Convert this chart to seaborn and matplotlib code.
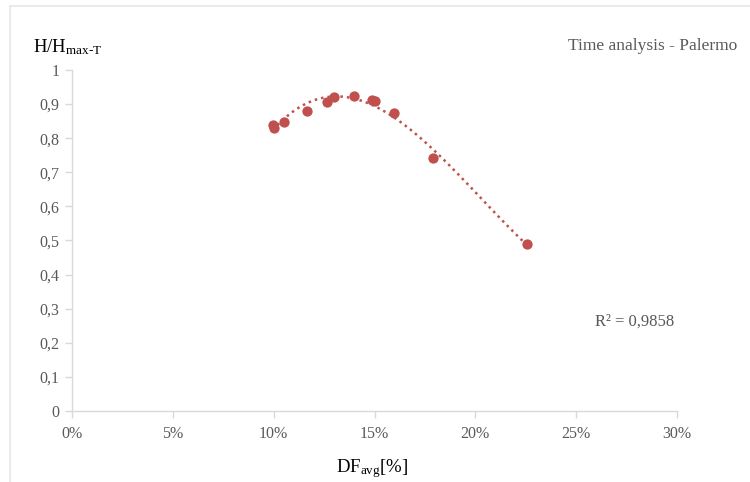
import matplotlib
matplotlib.use('Agg')
import matplotlib.pyplot as plt
from matplotlib.patches import Rectangle
from matplotlib.ticker import FuncFormatter, MultipleLocator
import seaborn as sns
import pandas as pd

# Data
df_avg = [0.0997, 0.1000, 0.1050, 0.1165, 0.1264, 0.1299, 0.1398, 0.1490, 0.1500, 0.1596, 0.1790, 0.2256]
h_ratio = [0.840, 0.830, 0.848, 0.880, 0.906, 0.921, 0.924, 0.912, 0.908, 0.873, 0.742, 0.490]

title = "Time analysis - Palermo"
r2_label = "R² = 0,9858"

red = '#C0504D'
grey_txt = '#595959'
grey_line = '#D9D9D9'

df = pd.DataFrame({'df': df_avg, 'h': h_ratio})

sns.set_style('white')
plt.rcParams['font.family'] = ['Liberation Serif', 'DejaVu Serif']
plt.rcParams['mathtext.fontset'] = 'custom'
plt.rcParams['mathtext.rm'] = 'Liberation Serif'
plt.rcParams['mathtext.it'] = 'Liberation Serif:italic'

fig = plt.figure(figsize=(7.5, 4.82), dpi=100)
ax = fig.add_axes([72 / 750, 1 - 411 / 482, (677 - 72) / 750, (411 - 70) / 482])

# chart area border (cropped on the right and bottom)
fig.patches.append(Rectangle((10 / 750, -0.1), 1.2, 1 - 6 / 482 + 0.1, transform=fig.transFigure,
                             fill=False, edgecolor='#E6E6E6', linewidth=1.2))

# polynomial trendline (order 3), dotted
sns.regplot(data=df, x='df', y='h', order=3, ci=None, scatter=False, ax=ax,
            line_kws=dict(color=red, linestyle=(0, (1, 1.6)), linewidth=1.8))
sns.scatterplot(data=df, x='df', y='h', ax=ax, color=red, s=55, edgecolor=red, linewidth=0, zorder=3)

ax.set_xlim(0, 0.30)
ax.set_ylim(0, 1)
ax.xaxis.set_major_locator(MultipleLocator(0.05))
ax.yaxis.set_major_locator(MultipleLocator(0.1))
ax.xaxis.set_major_formatter(FuncFormatter(lambda v, p: f"{v * 100:.0f}%"))
ax.yaxis.set_major_formatter(FuncFormatter(lambda v, p: "0" if abs(v) < 1e-9 else ("1" if abs(v - 1) < 1e-9 else f"{v:.1f}".replace('.', ','))))
ax.set_xlabel('')
ax.set_ylabel('')

for side in ['top', 'right']:
    ax.spines[side].set_visible(False)
for side in ['left', 'bottom']:
    ax.spines[side].set_color(grey_line)
    ax.spines[side].set_linewidth(1.0)
ax.tick_params(axis='both', which='major', direction='out', length=5, width=1.0,
               color=grey_line, labelcolor=grey_txt, labelsize=11.5)
ax.tick_params(axis='x', pad=6, bottom=True)
ax.tick_params(axis='y', pad=4, left=True)
ax.grid(False)

# labels and annotations
fig.text(33 / 750, 1 - 52 / 482, r"H/H$_{\mathrm{max\text{-}T}}$", fontsize=13.5, color='black',
         ha='left', va='baseline')
fig.text(372 / 750, 1 - 472 / 482, r"DF$_{\mathrm{avg}}$[%]", fontsize=13.5, color='black',
         ha='center', va='baseline')
fig.text(737 / 750, 1 - 50 / 482, title, fontsize=12.5, color=grey_txt, ha='right', va='baseline')
fig.text(595 / 750, 1 - 326 / 482, r2_label, fontsize=12, color=grey_txt, ha='left', va='baseline')

fig.savefig('out.png', dpi=100)
